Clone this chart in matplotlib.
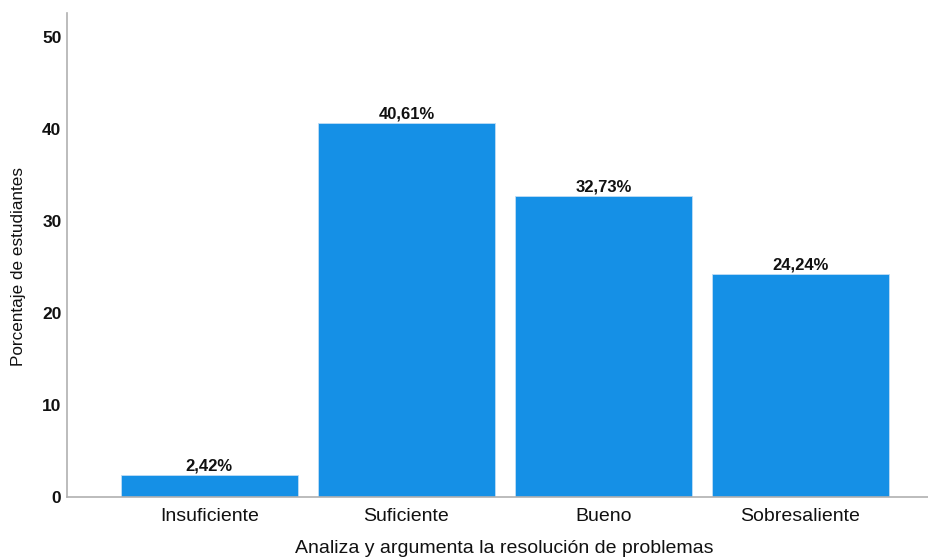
import numpy as np
import matplotlib.pyplot as plt

plt.rcParams['font.family'] = ['Liberation Sans', 'DejaVu Sans']

# Datos
categorias = ['Insuficiente', 'Suficiente', 'Bueno', 'Sobresaliente']
porcentajes = [2.42, 40.61, 32.73, 24.24]
etiquetas = ['2,42%', '40,61%', '32,73%', '24,24%']
yticks = [0, 10, 20, 30, 40, 50]

fig = plt.figure(figsize=(9.29, 5.6), dpi=100)
ax = fig.add_axes([0.0721, 0.1125, 0.9279, 0.8643])

x = np.arange(len(categorias))
bars = ax.bar(x, porcentajes, width=0.9, color='#1590E6', edgecolor='#BFDDF5', linewidth=0.6)

for b, lab in zip(bars, etiquetas):
    ax.text(b.get_x() + b.get_width() / 2, b.get_height() + 0.15, lab,
            ha='center', va='bottom', fontsize=12, fontweight='bold', color='#111111')

ax.set_xlim(-0.723, 3.652)
ax.set_ylim(0, 52.6)
ax.set_xticks(x)
ax.set_xticklabels(categorias, fontsize=14, color='#111111')
ax.set_yticks(yticks)
ax.set_yticklabels([str(t) for t in yticks], fontsize=12.5, fontweight='bold', color='#111111')
ax.tick_params(axis='both', length=0)
ax.tick_params(axis='x', pad=8)
ax.tick_params(axis='y', pad=4)

for s in ['top', 'right']:
    ax.spines[s].set_visible(False)
for s in ['left', 'bottom']:
    ax.spines[s].set_color('#b0b0b0')
    ax.spines[s].set_linewidth(1.2)

ax.set_xlabel('Analiza y argumenta la resolución de problemas', fontsize=14, color='#111111')
ax.set_ylabel('Porcentaje de estudiantes', fontsize=12.3, color='#111111')
ax.xaxis.set_label_coords(0.5075, -0.107)
ax.xaxis.label.set_va('center')
ax.yaxis.set_label_coords(-0.0568, 0.477)
ax.yaxis.label.set_va('center')

fig.savefig('out.png', dpi=100)
